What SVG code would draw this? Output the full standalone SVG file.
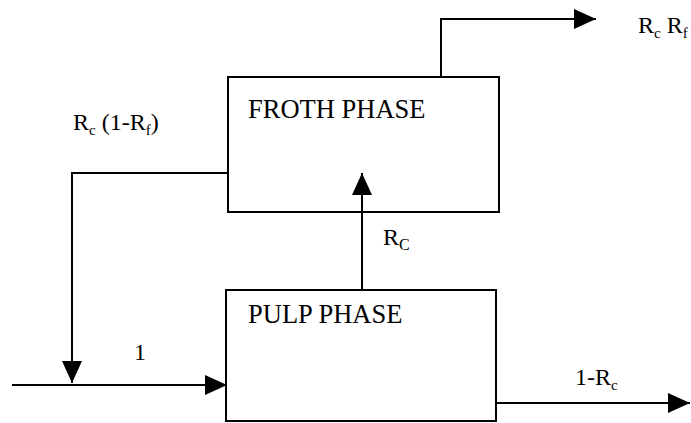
<svg xmlns="http://www.w3.org/2000/svg" width="691" height="423" viewBox="0 0 691 423">
<defs>
<style>
.box{fill:none;stroke:#000;stroke-width:2}
.ln{fill:none;stroke:#000;stroke-width:2}
.t{font-family:"Liberation Serif","Times New Roman",serif;fill:#000}
.big{font-size:26.5px}
.lab{font-size:24px}
.sub{font-size:15px}
</style>
<marker id="ah" markerUnits="userSpaceOnUse" markerWidth="24" markerHeight="22" refX="22" refY="10" orient="auto">
<path d="M0,0 L22,10 L0,20 Z" fill="#000"/>
</marker>
</defs>
<rect width="691" height="423" fill="#fff"/>
<g id="froth">
<rect class="box" x="228" y="77" width="271" height="135"/>
<text class="t big" x="248" y="118">FROTH PHASE</text>
</g>
<g id="pulp">
<rect class="box" x="226" y="290" width="270" height="131"/>
<text class="t big" x="248" y="323">PULP PHASE</text>
</g>
<g id="connectors">
<polyline class="ln" points="441,77 441,19 596,19" marker-end="url(#ah)"/>
<polyline class="ln" points="228,173 72,173 72,383" marker-end="url(#ah)"/>
<line class="ln" x1="12" y1="385" x2="227" y2="385" marker-end="url(#ah)"/>
<line class="ln" x1="362" y1="290" x2="362" y2="173" marker-end="url(#ah)"/>
<line class="ln" x1="496" y1="403" x2="690" y2="403" marker-end="url(#ah)"/>
</g>
<g id="labels">
<text class="t lab" x="638" y="33">R<tspan class="sub" dy="5">c</tspan><tspan dy="-5"> R</tspan><tspan class="sub" dy="5">f</tspan></text>
<text class="t lab" x="73" y="130">R<tspan class="sub" dy="5">c</tspan><tspan dy="-5"> (1-R</tspan><tspan class="sub" dy="5">f</tspan><tspan dy="-5">)</tspan></text>
<text class="t lab" x="383" y="245">R<tspan font-size="16" dy="5">C</tspan></text>
<text class="t lab" x="134" y="360">1</text>
<text class="t lab" x="575" y="385">1-R<tspan class="sub" dy="5">c</tspan></text>
</g>
</svg>
